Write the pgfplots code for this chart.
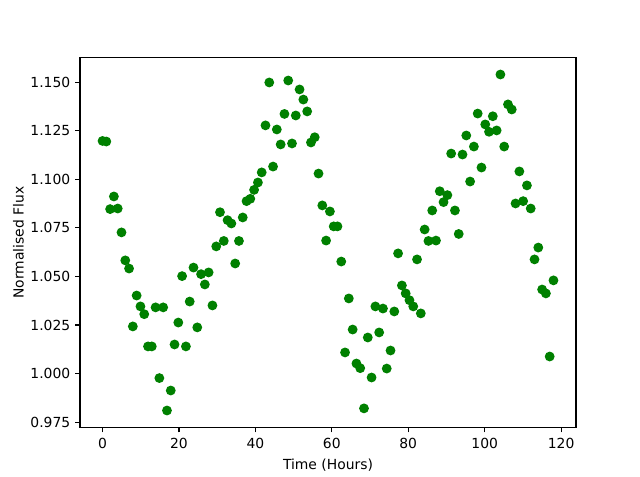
\documentclass[border=0pt]{standalone}
\usepackage{pgfplots}
\pgfplotsset{compat=1.18}
\usepackage{fontspec}
\setmainfont{DejaVu Sans}
\definecolor{mplgreen}{RGB}{0,128,0}
\begin{document}
\fontsize{10}{12}\selectfont
\begin{tikzpicture}
\begin{axis}[
  scale only axis,
  width=357.12pt, height=266.11pt,
  xmin=-5.9, xmax=123.9,
  ymin=0.9723, ymax=1.1626,
  xtick={0,20,40,60,80,100,120},
  ytick={0.975,1.000,1.025,1.050,1.075,1.100,1.125,1.150},
  yticklabel style={/pgf/number format/.cd, fixed, fixed zerofill, precision=3},
  /pgf/number format/assume math mode=true,
  tick align=outside,
  major tick length=3.5pt,
  tick style={black, line width=0.8pt},
  axis line style={line width=0.8pt},
  xtick pos=bottom, ytick pos=left,
  ticklabel style={font=\fontsize{10}{12}\selectfont},
  xticklabel style={yshift=-1pt},
  label style={font=\fontsize{10}{12}\selectfont},
  xlabel={Time (Hours)},
  ylabel={Normalised Flux},
  xlabel style={yshift=-0.5pt},
  ylabel style={yshift=-2pt},
  clip=false,
]
\addplot[only marks, mark=*, mark size=3pt, mark options={draw=mplgreen, fill=mplgreen, line width=1pt}] table {
x y
0 1.1198
0.99 1.1195
1.98 1.0847
2.97 1.0912
3.97 1.0850
4.96 1.0727
5.95 1.0583
6.94 1.0541
7.93 1.0243
8.92 1.0402
9.92 1.0346
10.91 1.0306
11.90 1.0140
12.89 1.0140
13.88 1.0341
14.87 0.9977
15.87 1.0341
16.86 0.9810
17.85 0.9913
18.84 1.0150
19.83 1.0263
20.82 1.0502
21.82 1.0140
22.81 1.0371
23.80 1.0546
24.79 1.0238
25.78 1.0512
26.77 1.0459
27.76 1.0521
28.76 1.0351
29.75 1.0655
30.74 1.0831
31.73 1.0683
32.72 1.0790
33.71 1.0773
34.71 1.0567
35.70 1.0683
36.69 1.0804
37.68 1.0888
38.67 1.0900
39.66 1.0946
40.66 1.0984
41.65 1.1036
42.64 1.1278
43.63 1.1499
44.62 1.1066
45.61 1.1257
46.61 1.1180
47.60 1.1337
48.59 1.1509
49.58 1.1185
50.57 1.1329
51.56 1.1463
52.55 1.1411
53.55 1.1350
54.54 1.1190
55.53 1.1217
56.52 1.1030
57.51 1.0866
58.50 1.0685
59.50 1.0835
60.49 1.0758
61.48 1.0758
62.47 1.0577
63.46 1.0109
64.45 1.0387
65.45 1.0227
66.44 1.0052
67.43 1.0028
68.42 0.9821
69.41 1.0186
70.40 0.9980
71.40 1.0346
72.39 1.0212
73.38 1.0335
74.37 1.0026
75.36 1.0119
76.35 1.0320
77.34 1.0619
78.34 1.0454
79.33 1.0413
80.32 1.0378
81.31 1.0346
82.30 1.0588
83.29 1.0310
84.29 1.0742
85.28 1.0683
86.27 1.0840
87.26 1.0685
88.25 1.0939
89.24 1.0883
90.24 1.0919
91.23 1.1133
92.22 1.0840
93.21 1.0719
94.20 1.1128
95.19 1.1226
96.19 1.0989
97.18 1.1169
98.17 1.1339
99.16 1.1061
100.15 1.1283
101.14 1.1245
102.13 1.1325
103.13 1.1252
104.12 1.1540
105.11 1.1169
106.10 1.1386
107.09 1.1360
108.08 1.0876
109.08 1.1041
110.07 1.0888
111.06 1.0969
112.05 1.0850
113.04 1.0588
114.03 1.0649
115.03 1.0433
116.02 1.0413
117.01 1.0088
118.00 1.0480
};
\coordinate (bl) at (rel axis cs:-0.16129,-0.12933);
\coordinate (tr) at (rel axis cs:1.12903,1.15639);
\end{axis}
\path[use as bounding box] (bl) rectangle (tr);
\end{tikzpicture}
\end{document}
